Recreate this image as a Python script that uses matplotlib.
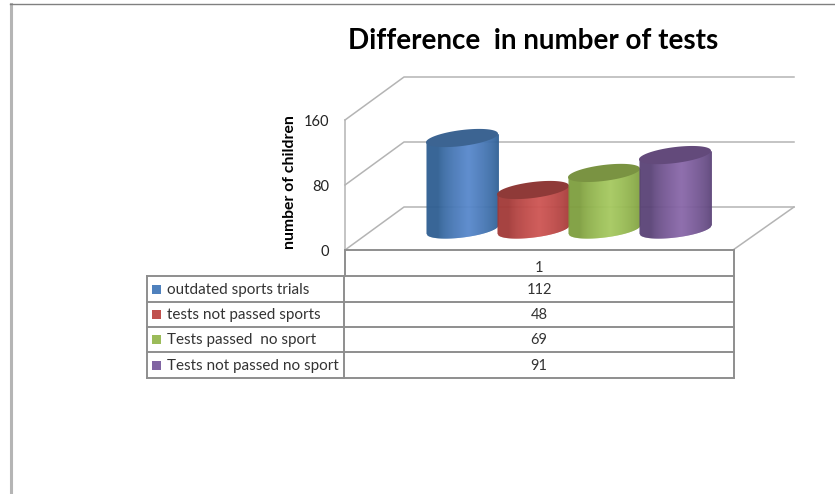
import numpy as np
import matplotlib
matplotlib.use("Agg")
import matplotlib.pyplot as plt
from matplotlib.colors import to_rgb
from matplotlib.patches import Rectangle

plt.rcParams["font.family"] = "Lato"

series = ["outdated sports trials", "tests not passed sports", "Tests passed  no sport", "Tests not passed no sport"]
values = [112, 48, 69, 91]
ticks = [0, 80, 160]
category = "1"
title = "Difference  in number of tests"
ylabel = "number of children"

edge_colors = ["#2f5f92", "#a33a38", "#7f9f3f", "#5a4377"]
mid_colors = ["#5888cc", "#cf5654", "#a6ca60", "#8a68aa"]
top_colors = ["#3c6492", "#8f3a38", "#7a9342", "#634a7b"]
legend_colors = ["#4f81bd", "#c0504d", "#9bbb59", "#8064a2"]

GRID = "#b4b4b4"
TABLE = "#8e8e8e"

fig = plt.figure(figsize=(8.35, 4.94), dpi=100)

# overlay in image pixels, for walls and table
px = fig.add_axes([0, 0, 1, 1])
px.set_xlim(0, 835)
px.set_ylim(494, 0)
px.axis("off")

# front plane of the chart, only gives the value scale
front = fig.add_axes([345 / 835, (494 - 250) / 494, 388 / 835, 130 / 494])
front.set_ylim(0, 160)
front.set_xlim(-1.648, 3.817)
front.axis("off")


def to_px(x, y):
    dx, dy = front.transData.transform((x, y))
    return dx, 494 - dy


# page border
px.plot([10.5, 10.5], [4, 494], color="#b5b5b5", lw=2.2)
px.plot([10, 835], [4, 4], color="#808080", lw=1)

# walls
dx_depth, dy_depth = 59, -43
for t in ticks:
    x0, y0 = to_px(-1.648, t)
    px.plot([x0, x0 + dx_depth, 794], [y0, y0 + dy_depth, y0 + dy_depth], color=GRID, lw=1.1)
    px.text(x0 - 16, y0 + 2, str(t), ha="right", va="center", fontsize=10.5, color="#222222")
px.plot([345, 345], [120, 250], color=GRID, lw=1.1)
px.plot([733, 794], [250, 207], color=GRID, lw=1.1)

# cylinders
a, b, s = 36, 8, 0.12
base_up = 21
for i, v in enumerate(values):
    cx, top_y = to_px(i, v)
    _, base_y = to_px(i, 0)
    base_y -= base_up
    top_y -= base_up
    rel = np.linspace(-a, a, 73)
    low = b * np.sqrt(np.clip(1 - (rel / a) ** 2, 0, 1))
    e = np.array(to_rgb(edge_colors[i]))
    m = np.array(to_rgb(mid_colors[i]))
    for j in range(len(rel) - 1):
        r = (rel[j] + rel[j + 1]) / 2
        f = np.clip(1 - abs(r - 6) / 30, 0, 1) ** 0.7
        col = e + (m - e) * f
        xs = [cx + rel[j], cx + rel[j + 1] + 0.4]
        y_low = [base_y + low[j] - s * rel[j], base_y + low[j + 1] - s * rel[j + 1]]
        y_up = [top_y - s * rel[j], top_y - s * rel[j + 1]]
        px.fill_between(xs, y_up, y_low, color=col, lw=0, zorder=3 + i)
    t = np.linspace(0, 2 * np.pi, 100)
    ex = a * np.cos(t)
    ey = b * np.sin(t) - s * ex
    px.fill(cx + ex, top_y + ey, color=top_colors[i], lw=0, zorder=3 + i)

# data table
rows = [276, 302, 327, 352, 378]
px.plot([345, 733], [250, 250], color=TABLE, lw=1.4)
px.plot([345, 345], [250, 276], color=TABLE, lw=1.4)
px.plot([733.5, 733.5], [250, 378], color=TABLE, lw=1.4)
px.plot([343.5, 343.5], [276, 378], color=TABLE, lw=1.4)
px.plot([147, 147], [276, 378], color=TABLE, lw=1.4)
for r in rows:
    px.plot([147, 733.5], [r, r], color=TABLE, lw=1.4)
px.text(539, 268, category, ha="center", va="center", fontsize=10.5, color="#333333")
for i, name in enumerate(series):
    yc = (rows[i] + rows[i + 1]) / 2
    px.add_patch(Rectangle((152, yc - 4.5), 9, 9, color=legend_colors[i], lw=0))
    px.text(167, yc + 0.5, name, ha="left", va="center", fontsize=11, color="#333333")
    px.text(539, yc + 0.5, str(values[i]), ha="center", va="center", fontsize=10.5, color="#333333")

px.text(533, 41, title, ha="center", va="center", fontsize=20, fontweight="bold", color="black")
px.text(290, 182, ylabel, rotation=90, ha="center", va="center", fontsize=11.3, fontweight="bold", color="black")

fig.savefig("out.png", dpi=100)
